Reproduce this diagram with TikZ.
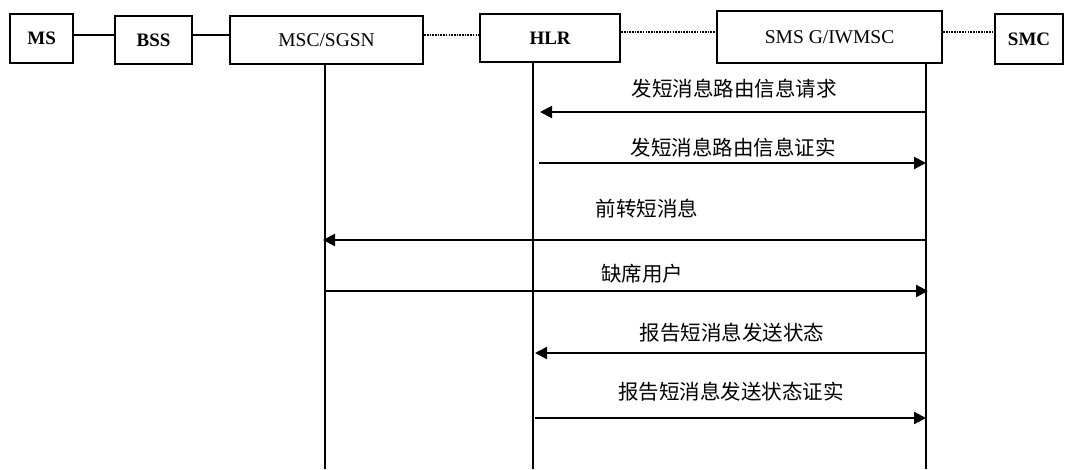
\documentclass[tikz,border=0pt]{standalone}
\usepackage{fontspec}
\setmainfont{Liberation Serif}
\newfontfamily\cjk{Noto Sans CJK SC}
\usetikzlibrary{arrows.meta}
\begin{document}
\begin{tikzpicture}[x=1pt,y=-1pt,
  ent/.style={draw,line width=2.2pt,inner sep=0pt,anchor=north west,font=\fontsize{19.5}{20}\selectfont},
  entb/.style={ent,font=\fontsize{19}{20}\selectfont\bfseries},
  life/.style={line width=2.1pt},
  dotline/.style={line width=2.4pt,dash pattern=on 1.6pt off 1.1pt},
  msg/.style={line width=2.1pt,-{Triangle[length=12pt,width=12pt]}},
  lbl/.style={font=\cjk\fontsize{20.5}{22}\selectfont,inner sep=0pt}]
\useasboundingbox (0,0) rectangle (1066,469);
% entity boxes
\node[entb,minimum width=63pt,minimum height=49pt] (ms) at (9,13) {MS};
\node[entb,minimum width=77pt,minimum height=48pt] (bss) at (114,15) {BSS};
\node[ent,minimum width=193pt,minimum height=48pt] (msc) at (229,15) {MSC/SGSN};
\node[entb,minimum width=140pt,minimum height=48pt] (hlr) at (479,13) {HLR};
\node[ent,minimum width=225pt,minimum height=52pt] (sms) at (716,10) {SMS G/IWMSC};
\node[entb,minimum width=68pt,minimum height=50pt] (smc) at (994,13) {SMC};
% links between boxes
\coordinate (y35) at (0,35);
\coordinate (y32) at (0,32);
\draw[line width=1.4pt] (ms.east |- y35) -- (bss.west |- y35);
\draw[line width=2.6pt] (bss.east |- y35) -- (msc.west |- y35);
\draw[dotline] (msc.east |- y35) -- (hlr.west |- y35);
\draw[dotline] (hlr.east |- y32) -- (sms.west |- y32);
\draw[dotline] (sms.east |- y32) -- (smc.west |- y32);
% lifelines
\coordinate (mscB) at (325,469);
\coordinate (hlrB) at (533,469);
\coordinate (smsB) at (926,469);
\draw[life] (msc.south -| mscB) -- (mscB);
\draw[life] (hlr.south -| hlrB) -- (hlrB);
\draw[life] (sms.south -| smsB) -- (smsB);
% message end points
\coordinate (m1a) at (926,112); \coordinate (m1b) at (540,112);
\coordinate (m2a) at (539,163); \coordinate (m2b) at (926,163);
\coordinate (m3a) at (926,240); \coordinate (m3b) at (323,240);
\coordinate (m4a) at (325,291); \coordinate (m4b) at (928,291);
\coordinate (m5a) at (926,353); \coordinate (m5b) at (535,353);
\coordinate (m6a) at (535,418); \coordinate (m6b) at (926,418);
\draw[msg] (m1a) -- (m1b);
\draw[msg] (m2a) -- (m2b);
\draw[msg] (m3a) -- (m3b);
\draw[msg] (m4a) -- (m4b);
\draw[msg] (m5a) -- (m5b);
\draw[msg] (m6a) -- (m6b);
% labels
\node[lbl] (l1) at (734,89) {发短消息路由信息请求};
\node[lbl] (l2) at (733,147.5) {发短消息路由信息证实};
\node[lbl] (l3) at (647,209) {前转短消息};
\node[lbl] (l4) at (642,274) {缺席用户};
\node[lbl] (l5) at (732,333) {报告短消息发送状态};
\node[lbl] (l6) at (731,392) {报告短消息发送状态证实};
\end{tikzpicture}
\end{document}
